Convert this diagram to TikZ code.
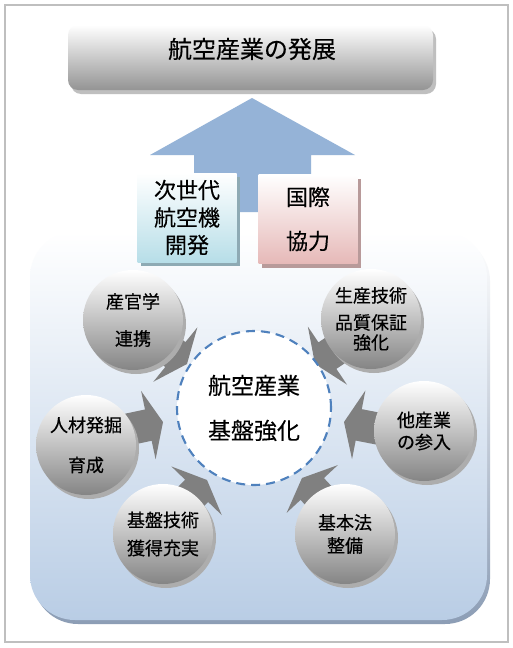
\documentclass[tikz,border=0pt]{standalone}
\usepackage{fontspec}
\newfontfamily\jp{Noto Sans CJK JP}[FakeBold=0.3]
\newfontfamily\jpb{Noto Sans CJK JP}[FakeBold=0.5]
\usetikzlibrary{shadows}
\definecolor{framegray}{HTML}{BFBFBF}
\definecolor{panelblue}{HTML}{B9CDE5}
\definecolor{panelshadow}{HTML}{8C9DB5}
\definecolor{upblue}{HTML}{95B3D7}
\definecolor{boxblue}{HTML}{B7DEE8}
\definecolor{boxblueshadow}{HTML}{8EAAB4}
\definecolor{boxpink}{HTML}{E6B9B8}
\definecolor{boxpinkshadow}{HTML}{B89A9A}
\definecolor{dashblue}{HTML}{4F81BD}
\definecolor{arrowgray}{HTML}{808080}
\tikzset{
  titlebox/.style={rounded corners=10pt, minimum width=365pt, minimum height=65pt, inner sep=0pt,
    top color=white, middle color=black!10, bottom color=black!42,
    drop shadow={shadow xshift=3pt, shadow yshift=-4pt, fill=black!25, opacity=1}},
  sidebox/.style={minimum width=99pt, minimum height=89pt, inner sep=0pt, align=center,
    font=\jp\fontsize{22}{27.5}\selectfont},
  bubble/.style={circle, minimum size=100pt, inner sep=0pt, align=center,
    top color=white, middle color=black!8, bottom color=black!48,
    drop shadow={shadow xshift=3pt, shadow yshift=-4pt, fill=black!32, opacity=1},
    font=\jpb\fontsize{18}{22}\selectfont},
  blockarrow/.style={fill=arrowgray},
  core/.style={circle, minimum size=154pt, inner sep=0pt, align=center, fill=white,
    draw=dashblue, line width=2.1pt, dash pattern=on 9pt off 6pt,
    font=\jp\fontsize{23}{45}\selectfont}
}
\begin{document}
\begin{tikzpicture}[x=1pt,y=1pt]
\useasboundingbox (0,0) rectangle (513,-648);
\fill[white] (0,0) rectangle (513,-648);
\draw[framegray, line width=1.6pt] (5,-5) rectangle (508,-642);

% lower panel
\shade[top color=white, bottom color=panelshadow, rounded corners=45pt] (33,-236) rectangle (490,-624);
\shade[top color=white, bottom color=panelblue, rounded corners=45pt] (30,-232) rectangle (487,-620);

% title
\node[titlebox] (titlebg) at (250.5,-57.5) {};
\node[font=\jp\fontsize{24}{28}\selectfont, inner sep=0pt] (title) at (252,-49) {航空産業の発展};

% up arrow
\fill[upblue] (252,-98) -- (355,-155) -- (311,-155) -- (311,-212) -- (194,-212) -- (194,-155) -- (150,-155) -- cycle;

% side boxes
\node[sidebox, top color=white, bottom color=boxblue,
  drop shadow={shadow xshift=3pt, shadow yshift=-4pt, fill=boxblueshadow, opacity=1}]
  (nextgen) at (187,-217.5) {次世代\\航空機\\開発};
\node[sidebox, top color=white, bottom color=boxpink, font=\jp\fontsize{22}{44}\selectfont,
  drop shadow={shadow xshift=3pt, shadow yshift=-4pt, fill=boxpinkshadow, opacity=1}]
  (intl) at (308,-219) {国際\\協力};

% arrow tips
\coordinate (t1) at (187,-364);
\coordinate (t2) at (163,-422);
\coordinate (t3) at (207,-480);
\coordinate (t4) at (302,-478);
\coordinate (t5) at (344,-422);
\coordinate (t6) at (315,-364);
\foreach \t/\r in {t1/-39, t2/12, t3/46, t4/133, t5/169, t6/-146}{
  \fill[blockarrow, shift={(\t)}, rotate=\r] (0,0) -- (-15,35) -- (-15,16) -- (-75,16)
    -- (-75,-16) -- (-15,-16) -- (-15,-35) -- cycle;
}

% bubbles
\node[bubble] (acad) at (133,-320) {産官学\\[15pt]連携};
\node[bubble] (prod) at (371,-319) {生産技術\\[5pt]品質保証\\[-2pt]強化};
\node[bubble] (hr) at (86,-445) {人材発掘\\[18pt]育成};
\node[bubble] (other) at (424,-431) {他産業\\の参入};
\node[bubble] (base) at (163,-534) {基盤技術\\[6pt]獲得充実};
\node[bubble] (law) at (345,-534) {基本法\\[1pt]整備};

% core
\node[core] (center) at (254,-408) {航空産業\\基盤強化};
\end{tikzpicture}
\end{document}
